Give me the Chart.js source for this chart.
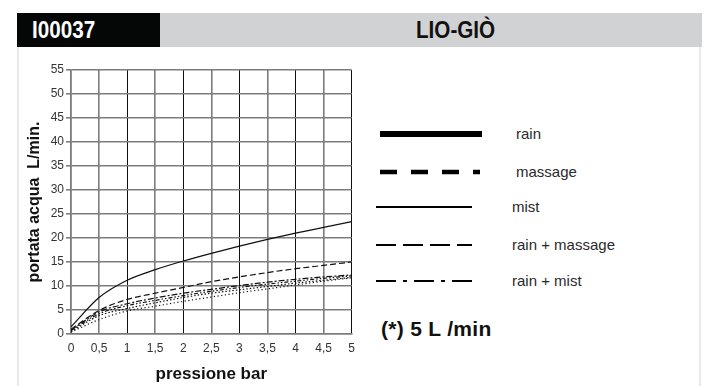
<!DOCTYPE html>
<html>
<head>
<meta charset="utf-8">
<script src="https://cdn.jsdelivr.net/npm/chart.js@4.4.1/dist/chart.umd.min.js"></script>
<style>
    html, body {margin: 0; padding: 0; background: #fff;}
    body {width: 706px; height: 386px; position: relative; overflow: hidden; font-family: "Liberation Sans", Arial, sans-serif;}
    .head-code {position: absolute; left: 17px; top: 13px; width: 143px; height: 34px; background: #050707;}
    .head-name {position: absolute; left: 160px; top: 13px; width: 542px; height: 34px; background: #d1d2d4;}
    .head-text {position: absolute; top: 0; font: bold 24px "Liberation Sans", Arial, sans-serif; line-height: 34px;
        white-space: nowrap; transform: scaleX(0.86); transform-origin: left center;}
    .side {position: absolute; top: 47px; width: 2px; height: 339px; background: #e9e9e9;}
    .chart-box {position: absolute; left: 0; top: 56px; width: 362px; height: 330px;}
    .legend {position: absolute; left: 372px; top: 120px;}
    .legend svg {position: absolute; left: 0; top: 0;}
    .legend span {position: absolute; font-size: 15px; color: #2a2a2a; white-space: nowrap; line-height: 18px;}
    .note {position: absolute; left: 381px; top: 317px; font-weight: bold; font-size: 21px; color: #111; letter-spacing: 0.3px;}
</style>
</head>
<body>
<div class="head-code"><span class="head-text" style="left: 15px; color: #fff;">I00037</span></div>
<div class="head-name"><span class="head-text" style="left: 256px; color: #111;">LIO-GIÒ</span></div>
<div class="side" style="left: 17px;"></div>
<div class="side" style="left: 699px;"></div>

<div class="chart-box"><canvas id="lineChart" width="362" height="330"></canvas></div>

<div class="legend">
    <svg width="120" height="180">
        <line x1="8" y1="14" x2="110" y2="14" stroke="#000" stroke-width="6"/>
        <line x1="8" y1="52" x2="108" y2="52" stroke="#000" stroke-width="4.5" stroke-dasharray="17 14"/>
        <line x1="4" y1="87" x2="100" y2="87" stroke="#000" stroke-width="2.2"/>
        <line x1="4" y1="125" x2="100" y2="125" stroke="#000" stroke-width="2" stroke-dasharray="20 7"/>
        <line x1="4" y1="161" x2="100" y2="161" stroke="#000" stroke-width="2" stroke-dasharray="20 7 4 7"/>
    </svg>
    <span style="left: 144px; top: 5px;">rain</span>
    <span style="left: 144px; top: 43px;">massage</span>
    <span style="left: 140px; top: 78px;">mist</span>
    <span style="left: 140px; top: 116px;">rain + massage</span>
    <span style="left: 140px; top: 152px;">rain + mist</span>
</div>
<div class="note">(*) 5 L /min</div>

<script>
// pressione (bar) sull'asse x
const pressione = [0, 0.5, 1, 1.5, 2, 2.5, 3, 3.5, 4, 4.5, 5];
const xTickLabels = ['0', '0,5', '1', '1,5', '2', '2,5', '3', '3,5', '4', '4,5', '5'];
const yTickValues = [0, 5, 10, 15, 20, 25, 30, 35, 40, 45, 50, 55];

// portata acqua L/min per getto
const mist = [1.5, 7.6, 11.2, 13.4, 15.2, 16.8, 18.3, 19.7, 21.0, 22.2, 23.4];
const rainMassage = [1.0, 4.9, 7.2, 8.5, 9.7, 10.9, 11.9, 12.8, 13.6, 14.3, 15.0];
const rainMist = [0.8, 4.6, 6.3, 7.5, 8.5, 9.3, 10.1, 10.8, 11.4, 11.9, 12.3];
const massage = [0.7, 4.2, 5.9, 7.0, 8.0, 8.9, 9.7, 10.4, 11.0, 11.6, 12.1];
const rain = [0.5, 3.8, 5.3, 6.5, 7.6, 8.5, 9.2, 9.9, 10.6, 11.2, 11.8];
const rainReduced = [0.4, 3.0, 4.8, 5.8, 6.8, 7.7, 8.6, 9.4, 10.2, 11.0, 11.7];

function toPoints(values) {
    return values.map((v, i) => ({x: pressione[i], y: v}));
}

function curve(label, values, dash) {
    return {
        label: label,
        data: toPoints(values),
        borderColor: '#111',
        borderWidth: 1.2,
        borderDash: dash,
        pointRadius: 0,
        fill: false,
        cubicInterpolationMode: 'monotone'
    };
}

document.addEventListener('DOMContentLoaded', function () {
    const canvas = document.getElementById('lineChart');

    new Chart(canvas, {
        type: 'line',
        data: {
            datasets: [
                curve('mist', mist, []),
                curve('rain + massage', rainMassage, [6, 3]),
                curve('rain + mist', rainMist, [6, 2, 2, 2]),
                curve('massage', massage, [4, 2, 1.5, 2, 1.5, 2]),
                curve('rain', rain, [1.5, 2]),
                curve('(*) 5 L /min', rainReduced, [1.2, 2.5])
            ]
        },
        options: {
            responsive: false,
            animation: false,
            layout: {padding: {top: 14, right: 8, bottom: 0, left: 25}},
            scales: {
                x: {
                    type: 'linear',
                    min: 0,
                    max: 5,
                    afterFit: (scale) => { scale.height = 52; },
                    ticks: {
                        stepSize: 0.5,
                        padding: 7,
                        color: '#333',
                        font: {size: 12, family: 'Liberation Sans'},
                        maxRotation: 0,
                        callback: (v) => xTickLabels[Math.round(v * 2)]
                    },
                    grid: {
                        drawTicks: false,
                        color: (ctx) => (ctx.tick && ctx.tick.value % 1 === 0 && ctx.tick.value !== 0) ? '#111' : '#7d7d7d',
                        lineWidth: (ctx) => (ctx.tick && ctx.tick.value % 1 === 0 && ctx.tick.value !== 0) ? 1 : 1.6
                    },
                    border: {color: '#7d7d7d', width: 1.6},
                    title: {
                        display: true,
                        text: 'pressione bar',
                        color: '#111',
                        font: {size: 17, weight: 'bold', family: 'Liberation Sans'},
                        padding: {top: 0, bottom: 1}
                    }
                },
                y: {
                    min: 0,
                    max: 55,
                    afterFit: (scale) => { scale.width = 46; },
                    afterBuildTicks: (scale) => { scale.ticks = yTickValues.map(v => ({value: v})); },
                    ticks: {
                        padding: 2,
                        color: '#333',
                        font: {size: 12, family: 'Liberation Sans'}
                    },
                    grid: {
                        tickLength: 5,
                        color: '#7d7d7d',
                        lineWidth: 1.6
                    },
                    border: {color: '#7d7d7d', width: 1.6},
                    title: {
                        display: true,
                        text: 'portata acqua  L/min.',
                        color: '#111',
                        font: {size: 16, weight: 'bold', family: 'Liberation Sans'},
                        padding: {top: 0, bottom: 0}
                    }
                }
            },
            plugins: {
                legend: {display: false},
                tooltip: {enabled: false}
            }
        }
    });
});
</script>
</body>
</html>
